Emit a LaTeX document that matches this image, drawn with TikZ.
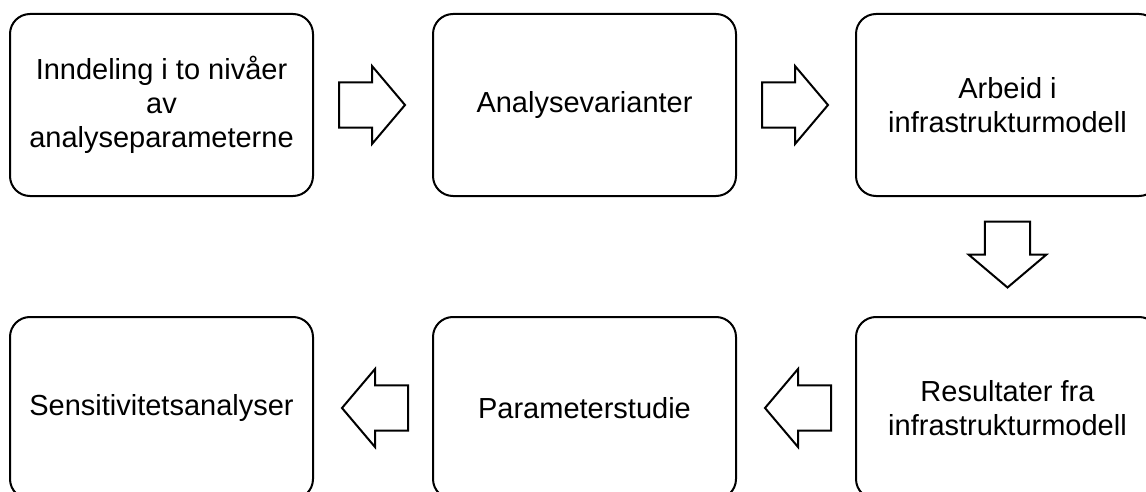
\documentclass[tikz,border=0pt]{standalone}
\usepackage{fontspec}
\setmainfont{Liberation Sans}
\usetikzlibrary{calc}
\tikzset{
  stagebox/.style={draw, line width=2pt, rounded corners=20pt,
    minimum width=303pt, minimum height=182pt, inner sep=0pt,
    align=center, font={\fontsize{29}{31}\selectfont}},
  arrowline/.style={draw, line width=2pt, fill=white, line join=miter},
  blockarrow/.pic={
    \path[arrowline] (-33,-22.7) -- (0,-22.7) -- (0,-39) -- (33,0)
      -- (0,39) -- (0,22.7) -- (-33,22.7) -- cycle;
  }
}
\begin{document}
\begin{tikzpicture}[x=1pt, y=1pt]
  \clip (0,0) rectangle (1146,-492);
  \fill[white] (0,0) rectangle (1146,-492);

  % upper row
  \node[stagebox] (s1) at (161.5,-105) {Inndeling i to nivåer\\[3pt]av\\[3pt]analyseparameterne};
  \node[stagebox] (s2) at (584.5,-105) {Analysevarianter};
  \node[stagebox] (s3) at (1007.5,-105) {Arbeid i\\[3pt]infrastrukturmodell};

  % lower row
  \node[stagebox] (s4) at (1007.5,-408) {Resultater fra\\[3pt]infrastrukturmodell};
  \node[stagebox] (s5) at (584.5,-408) {Parameterstudie};
  \node[stagebox] (s6) at (161.5,-408) {Sensitivitetsanalyser};

  % block arrows between the stages
  \pic at ($(s1.east)!0.5!(s2.west)+(-1,0)$) {blockarrow};
  \pic at ($(s2.east)!0.5!(s3.west)+(-1,0)$) {blockarrow};
  \pic[rotate=-90] at ($(s3.south)!0.5!(s4.north)+(0,2)$) {blockarrow};
  \pic[rotate=180] at ($(s4.west)!0.5!(s5.east)+(2,0)$) {blockarrow};
  \pic[rotate=180] at ($(s5.west)!0.5!(s6.east)+(2,0)$) {blockarrow};
\end{tikzpicture}
\end{document}
